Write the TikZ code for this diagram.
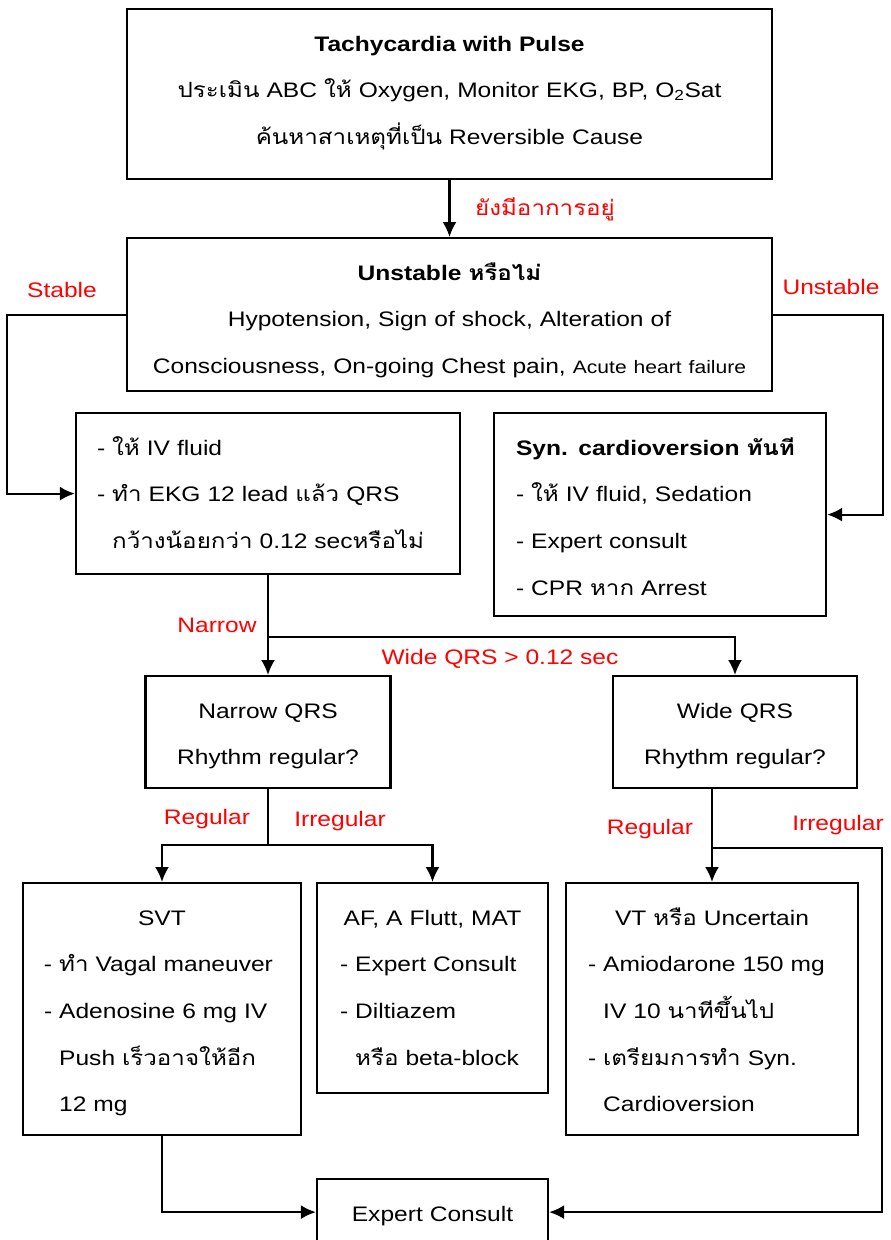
\documentclass[tikz,border=0pt]{standalone}
\usepackage{fontspec}
\setmainfont{Liberation Sans}[FakeStretch=1.17]
\newfontfamily\thaifont[Script=Thai,FakeStretch=1.15]{Loma}
\newcommand{\thaitxt}[1]{{\thaifont #1}}
\newcommand{\ind}{\hphantom{-\ }}
\usetikzlibrary{arrows.meta}
\tikzset{
  box/.style={draw, line width=2.2pt, inner ysep=0pt, text height=42pt, font=\fontsize{21}{46.7}\selectfont},
  lbl/.style={text=red, inner sep=0pt, font=\fontsize{21}{24}\selectfont},
  ln/.style={line width=2.2pt},
  arr/.style={line width=2.2pt, -{Latex[length=15pt,width=14pt]}},
}
\begin{document}
\begin{tikzpicture}[x=1pt,y=-1pt]
\useasboundingbox (0,0) rectangle (891,1240);
\node[box, anchor=north, align=center, inner xsep=4pt, text width=637pt, text depth=128pt] (top) at (449.5,8)
  {\textbf{Tachycardia with Pulse}\\
   \thaitxt{ประเมิน} ABC \thaitxt{ให้} Oxygen, Monitor EKG, BP, O\textsubscript{2}Sat\\
   \thaitxt{ค้นหาสาเหตุที่เป็น} Reversible Cause};
\node[box, anchor=north, align=center, inner xsep=4pt, text width=637pt, text depth=111pt] (unst) at (449.5,237)
  {\textbf{Unstable \thaitxt{หรือไม่}}\\
   Hypotension, Sign of shock, Alteration of\\
   Consciousness, On-going Chest pain, {\fontsize{18}{20}\selectfont Acute heart failure}};
\node[box, anchor=north, align=left, inner xsep=21pt, text width=342pt, text depth=119pt] (fluid) at (268,412)
  {\mbox{- \thaitxt{ให้} IV fluid}\\
   \mbox{- \thaitxt{ทำ} EKG 12 lead \thaitxt{แล้ว} QRS}\\
   \mbox{\ind\thaitxt{กว้างน้อยกว่า} 0.12 sec\thaitxt{หรือไม่}}};
\node[box, anchor=north, align=left, inner xsep=22pt, text width=288pt, text depth=161pt] (syn) at (660,412)
  {\mbox{\textbf{Syn. cardioversion \thaitxt{ทันที}}}\\
   \mbox{- \thaitxt{ให้} IV fluid, Sedation}\\
   \mbox{- Expert consult}\\
   \mbox{- CPR \thaitxt{หาก} Arrest}};
\node[box, anchor=north, align=center, inner xsep=4pt, text width=237pt, text depth=70pt] (narrow) at (268,675)
  {Narrow QRS\\ Rhythm regular?};
\node[box, anchor=north, align=center, inner xsep=4pt, text width=236pt, text depth=70pt] (wide) at (735,675)
  {Wide QRS\\ Rhythm regular?};
\node[box, anchor=north, align=left, inner xsep=21pt, text width=236pt, text depth=210pt] (svt) at (162,882)
  {\makebox[\hsize]{SVT}\\
   \mbox{- \thaitxt{ทำ} Vagal maneuver}\\
   \mbox{- Adenosine 6 mg IV}\\
   \mbox{\ind Push \thaitxt{เร็วอาจให้อีก}}\\
   \mbox{\ind 12 mg}};
\node[box, anchor=north, align=left, inner xsep=23pt, text width=185pt, text depth=168pt] (af) at (432.5,882)
  {\makebox[\hsize]{AF, A Flutt, MAT}\\
   \mbox{- Expert Consult}\\
   \mbox{- Diltiazem}\\
   \mbox{\ind\thaitxt{หรือ} beta-block}};
\node[box, anchor=north, align=left, inner xsep=22pt, text width=248pt, text depth=210pt] (vt) at (712,882)
  {\makebox[\hsize]{VT \thaitxt{หรือ} Uncertain}\\
   \mbox{- Amiodarone 150 mg}\\
   \mbox{\ind IV 10 \thaitxt{นาทีขึ้นไป}}\\
   \mbox{- \thaitxt{เตรียมการทำ} Syn.}\\
   \mbox{\ind Cardioversion}};
\node[box, anchor=north, align=center, inner xsep=4pt, text width=223pt, text depth=24pt] (exp) at (432.5,1178)
  {Expert Consult};
% connectors
\draw[arr] (top) -- (unst);
\draw[arr] (unst.west) -- ++(-119,0) |- (fluid.west);
\draw[arr] (unst.east) -- ++(110,0) |- (syn.east);
\coordinate (jn) at (268,637);
\draw[ln] (fluid.south) -- (jn);
\draw[arr] (jn) -- (narrow.north);
\draw[arr] (jn) -| (wide.north);
\coordinate (jr) at (268,845);
\draw[ln] (narrow.south) -- (jr);
\draw[arr] (jr) -| (svt.north);
\draw[arr] (jr) -| (af.north);
\coordinate (jw) at (wide.south -| vt.north);
\draw[arr] (jw) -- (vt.north);
\coordinate (jv) at (vt.north |- 0,848);
\coordinate (ev) at (882,848);
\draw[arr] (jv) -- (ev) |- (exp.east);
\draw[arr] (svt.south) |- (exp.west);
% labels
\node[lbl] (lcont) at (545,209) {\thaitxt{ยังมีอาการอยู่}};
\node[lbl] (lstab) at (62,290) {Stable};
\node[lbl] (lunst) at (831,287) {Unstable};
\node[lbl] (lnar) at (217,625) {Narrow};
\node[lbl] (lwide) at (500,659) {Wide QRS > 0.12 sec};
\node[lbl] (lreg1) at (207,819) {Regular};
\node[lbl] (lirr1) at (340,821) {Irregular};
\node[lbl] (lreg2) at (650,829) {Regular};
\node[lbl] (lirr2) at (838,825) {Irregular};
\end{tikzpicture}
\end{document}
